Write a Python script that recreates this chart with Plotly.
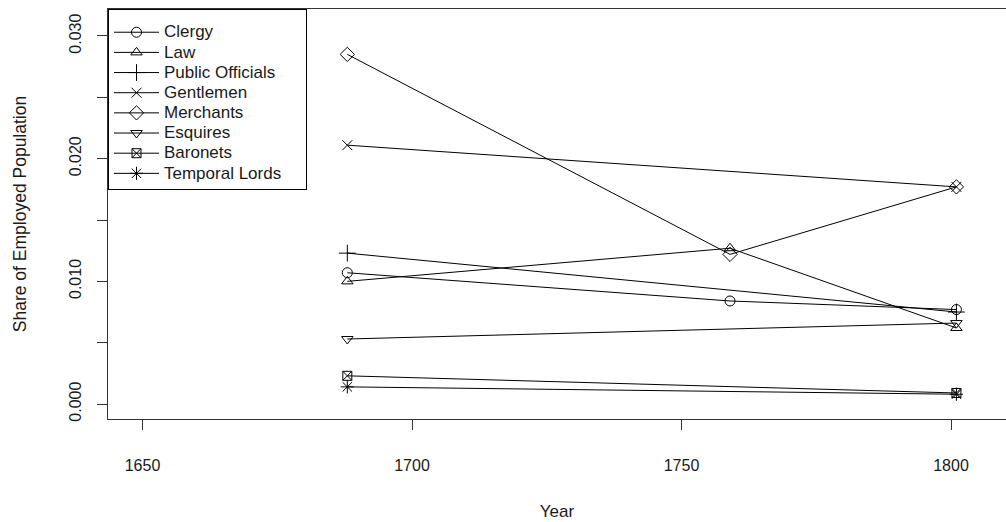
import plotly.graph_objects as go

series_names = ["Clergy", "Law", "Public Officials", "Gentlemen", "Merchants",
                "Esquires", "Baronets", "Temporal Lords"]
series_years = {
    "Clergy": [1688, 1759, 1801],
    "Law": [1688, 1759, 1801],
    "Public Officials": [1688, 1801],
    "Gentlemen": [1688, 1801],
    "Merchants": [1688, 1759, 1801],
    "Esquires": [1688, 1801],
    "Baronets": [1688, 1801],
    "Temporal Lords": [1688, 1801],
}
clergy = [0.0107, 0.0084, 0.0077]
law = [0.0100, 0.0127, 0.0062]
public_officials = [0.0123, 0.0075]
gentlemen = [0.0211, 0.0177]
merchants = [0.0285, 0.0122, 0.0177]
esquires = [0.0053, 0.0066]
baronets = [0.0023, 0.0009]
temporal_lords = [0.0014, 0.0008]

series_values = {
    "Clergy": clergy, "Law": law, "Public Officials": public_officials,
    "Gentlemen": gentlemen, "Merchants": merchants, "Esquires": esquires,
    "Baronets": baronets, "Temporal Lords": temporal_lords,
}
symbols = {
    "Clergy": "circle-open", "Law": "triangle-up-open",
    "Public Officials": "cross-thin-open", "Gentlemen": "x-thin-open",
    "Merchants": "diamond-open", "Esquires": "triangle-down-open",
    "Baronets": "square-x-open", "Temporal Lords": "asterisk-open",
}
sizes = {
    "Clergy": 10, "Law": 10, "Public Officials": 12, "Gentlemen": 10,
    "Merchants": 11, "Esquires": 10, "Baronets": 9, "Temporal Lords": 11,
}

x_ticks = [1650, 1700, 1750, 1800]
y_ticks = [0.000, 0.005, 0.010, 0.015, 0.020, 0.025, 0.030]
y_ticktext = ["0.000", "", "0.010", "", "0.020", "", "0.030"]

FONT = "Liberation Sans, Arial, Helvetica, sans-serif"

fig = go.Figure()
for name in series_names:
    fig.add_trace(go.Scatter(
        x=series_years[name], y=series_values[name],
        name='<span style="font-size:17px">' + name + '</span>',
        mode="lines+markers",
        line=dict(color="black", width=1),
        marker=dict(symbol=symbols[name], size=sizes[name], color="black",
                    line=dict(color="black", width=1)),
    ))

# blank spacer title: only widens/pads the legend box like R's legend()
spacer = "&nbsp;" * 126

fig.update_layout(
    width=1006, height=522,
    margin=dict(l=108, r=0, t=9, b=103),
    paper_bgcolor="white", plot_bgcolor="white",
    font=dict(family=FONT, size=16, color="#1a1a1a"),
    showlegend=True,
    legend=dict(x=0, y=1, xanchor="left", yanchor="top",
                bgcolor="white", bordercolor="black", borderwidth=1,
                font=dict(family=FONT, size=13.2, color="#1a1a1a"),
                title=dict(text=spacer, font=dict(family=FONT, size=5.5)),
                itemwidth=45, tracegroupgap=0),
    xaxis=dict(range=[1643.6, 1810.2], tickvals=x_ticks,
               showgrid=False, zeroline=False,
               showline=True, linecolor="#333333", linewidth=1, mirror=True,
               ticks="outside", ticklen=10, tickcolor="#333333",
               ticklabelstandoff=22,
               title=dict(text="Year", standoff=31,
                          font=dict(family=FONT, size=17))),
    yaxis=dict(range=[-0.00122, 0.03220], tickvals=y_ticks, ticktext=y_ticktext,
               tickangle=-90,
               showgrid=False, zeroline=False,
               showline=True, linecolor="#333333", linewidth=1, mirror=False,
               ticks="outside", ticklen=10, tickcolor="#333333",
               ticklabelstandoff=10,
               title=dict(text="Share of Employed Population", standoff=35,
                          font=dict(family=FONT, size=17.5))),
)

fig.write_html("out.html")
